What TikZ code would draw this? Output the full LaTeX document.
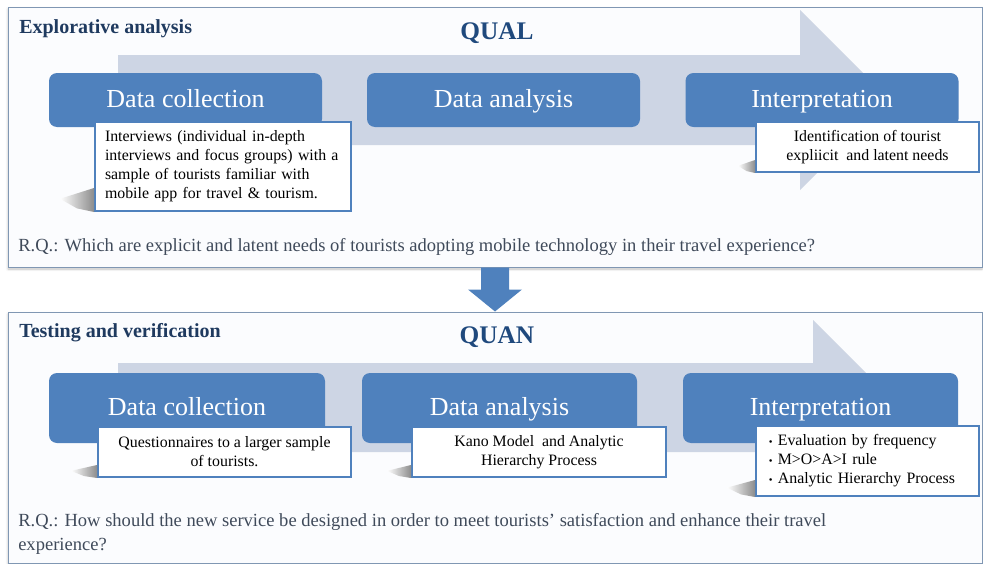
\documentclass[tikz,border=0pt]{standalone}
\usepackage{xcolor}
\usepackage{fontspec}
\setmainfont{Liberation Serif}
\usepackage{tikz}
\usetikzlibrary{calc}
\usetikzlibrary{positioning, shapes, shadows.blur}
\definecolor{boxblue}{HTML}{4F81BD}
\definecolor{flowgrey}{HTML}{CDD5E4}
\definecolor{titleblue}{HTML}{1F3A5F}
\definecolor{phaseblue}{HTML}{1F497D}
\definecolor{rqgrey}{HTML}{3F4A5A}
\definecolor{panelline}{HTML}{8097B3}
\definecolor{panelfill}{HTML}{FBFCFE}
% wedge shadow left of a note: node, width, height
\newcommand{\noteshadow}[3]{%
  \shade[left color=white, right color=black!45]
    ($(#1.south west)+(-#2,-#3*0.55)$) -- ($(#1.south west)+(0,-#3)$) --
    (#1.south west) -- ($(#1.south west)+(-#2*0.5,-#3*0.15)$) -- cycle;}

\tikzset{
  panel/.style={draw=panelline, line width=0.75pt, fill=panelfill,
    blur shadow={shadow xshift=0pt, shadow yshift=-1.5pt, shadow opacity=25, shadow blur steps=4}},
  stage/.style={fill=boxblue, rounded corners=6pt, text=white, text height=14pt, text depth=2.5pt,
    font=\fontsize{19.5}{22}\selectfont, minimum width=204.75pt},
  note/.style={draw=boxblue, line width=1.5pt, fill=white, inner sep=0pt,
    font=\fontsize{11.9}{14.2}\selectfont, align=center},
  flow/.style={fill=flowgrey},
  heading/.style={anchor=base west, inner sep=0pt, text=titleblue, font=\bfseries\fontsize{15}{18}\selectfont},
  phase/.style={anchor=base, text=phaseblue, font=\bfseries\fontsize{19}{22}\selectfont},
  question/.style={anchor=north west, inner sep=0pt, align=left, text=rqgrey,
    font=\fontsize{13.9}{18}\selectfont},
}

\begin{document}
\begin{tikzpicture}[x=0.75pt, y=-0.75pt]% QUAL -> QUAN
  \useasboundingbox (0,0) rectangle (983,564);

  % panels
  \node[panel, minimum width=730.5pt, minimum height=195pt] (qual) at (495,137) {};
  \node[panel, minimum width=730.5pt, minimum height=188.25pt] (quan) at (495,437.5) {};
  \fill[boxblue] ($(qual.south)+(-14,0)$) -- ($(qual.south)+(14,0)$) -- ($(qual.south)+(14,22)$)
    -- ($(qual.south)+(27,22)$) -- (quan.north) -- ($(qual.south)+(-27,22)$)
    -- ($(qual.south)+(-14,22)$) -- cycle;

  % background flow arrows
  \fill[flow] (118,55) -- (800,55) -- (800,10) -- (890,100) -- (800,190) -- (800,145) -- (118,145) -- cycle;
  \fill[flow] (118,363) -- (813,363) -- (813,320) -- (900.5,407.5) -- (813,495) -- (813,452) -- (118,452) -- cycle;

  % headings
  \node[heading] (explore) at (19,33) {Explorative analysis};
  \node[phase] (qualtitle) at (497,39) {QUAL};
  \node[heading] (testing) at (19,337) {Testing and verification};
  \node[phase] (quantitle) at (497,343) {QUAN};

  % qualitative stages
  \node[stage, minimum height=40.5pt] (qcollect) at (185.5,100) {Data collection};
  \node[stage, minimum height=40.5pt] (qanalyse) at (503.5,100) {Data analysis};
  \node[stage, minimum height=40.5pt] (qinterp) at (822,100) {Interpretation};

  \node[note, minimum width=192pt, minimum height=66.75pt, align=left, text width=177pt, inner xsep=7.5pt]
    (qcollectnote) at (223,166.5) {Interviews (individual in-depth\\interviews and focus groups) with a\\sample of tourists familiar with\\mobile app for travel \& tourism.};
  \node[note, minimum width=167.25pt, minimum height=37.5pt]
    (qinterpnote) at (867.5,147) {Identification of tourist\\expliicit~ and latent needs};
  \noteshadow{qcollectnote}{34}{24}
  \noteshadow{qinterpnote}{17}{13}

  \node[question] (rqqual) at (18,238) {R.Q.: Which are explicit and latent needs of tourists adopting mobile technology in their travel experience?};

  % quantitative stages
  \node[stage, minimum height=52.5pt, minimum width=207pt] (ncollect) at (187,408) {Data collection};
  \node[stage, minimum height=52.5pt, minimum width=206.25pt] (nanalyse) at (499.5,408) {Data analysis};
  \node[stage, minimum height=52.5pt, minimum width=206.25pt] (ninterp) at (820.5,408) {Interpretation};

  \node[note, minimum width=189.75pt, minimum height=37.5pt]
    (ncollectnote) at (224.5,452) {Questionnaires to a larger sample\\of tourists.};
  \node[note, minimum width=190.5pt, minimum height=37.5pt]
    (nanalysenote) at (539,452) {Kano Model~ and Analytic\\Hierarchy Process};
  \node[note, minimum width=167.25pt, minimum height=52.5pt, align=left, text width=148pt, inner xsep=9.5pt]
    (ninterpnote) at (867.5,461) {{\footnotesize\textbullet}~Evaluation by frequency\\{\footnotesize\textbullet}~M>O>A>I rule\\{\footnotesize\textbullet}~Analytic Hierarchy Process};
  \noteshadow{ncollectnote}{26}{13}
  \noteshadow{nanalysenote}{24}{13}
  \noteshadow{ninterpnote}{28}{17}

  \node[question] (rqquan) at (18,513) {R.Q.: How should the new service be designed in order to meet tourists’ satisfaction and enhance their travel\\experience?};
\end{tikzpicture}
\end{document}
